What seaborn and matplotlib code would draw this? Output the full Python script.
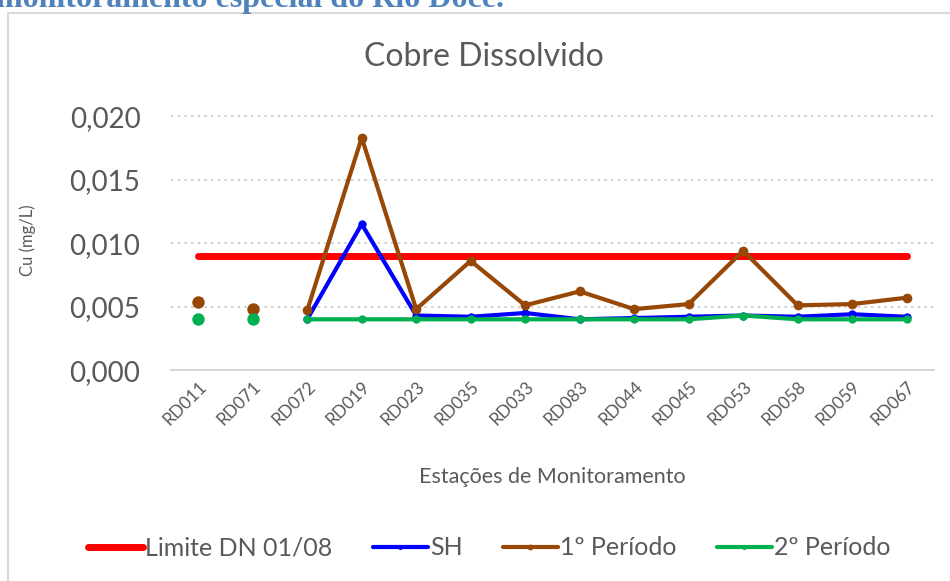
import numpy as np
import pandas as pd
import matplotlib
matplotlib.use("Agg")
import matplotlib.pyplot as plt
import seaborn as sb
from matplotlib.patches import Rectangle

estacoes = ["RD011", "RD071", "RD072", "RD019", "RD023", "RD035", "RD033",
            "RD083", "RD044", "RD045", "RD053", "RD058", "RD059", "RD067"]
limite = [0.009] * len(estacoes)
sh = [0.0040, 0.0041, 0.0040, 0.0115, 0.0043, 0.0042, 0.0045,
      0.0040, 0.0041, 0.0042, 0.0043, 0.0042, 0.0044, 0.0042]
periodo_1 = [0.0054, 0.0048, 0.0047, 0.0183, 0.0048, 0.0086, 0.0051,
             0.0062, 0.0048, 0.0052, 0.0094, 0.0051, 0.0052, 0.0057]
periodo_2 = [0.0040, 0.0040, 0.0040, 0.0040, 0.0040, 0.0040, 0.0040,
             0.0040, 0.0040, 0.0040, 0.0043, 0.0040, 0.0040, 0.0040]
# as duas primeiras estações aparecem sem ligação com as demais
n_isoladas = 2

sb.set_style("white")
plt.rcParams["font.family"] = ["Lato", "DejaVu Sans"]
cinza = "#595959"

df = pd.DataFrame({"pos": np.arange(len(estacoes)), "estacao": estacoes,
                   "limite": limite, "sh": sh, "p1": periodo_1, "p2": periodo_2})
isol = df.iloc[:n_isoladas]
resto = df.iloc[n_isoladas:]

fig = plt.figure(figsize=(9.5, 5.81), dpi=100)
ax = fig.add_axes([0.18, 0.363, 0.803, 0.448])

# moldura do gráfico
fig.patches.append(Rectangle((8 / 950, -0.01), 1.0, 1 - 13 / 581 + 0.01,
                             transform=fig.transFigure, fill=False,
                             edgecolor="#d9d9d9", linewidth=1.5))
# texto do documento, cortado no topo
fig.text(-0.004, 1 - 7 / 581, "monitoramento especial do Rio Doce.", color="#4f81bd",
         fontsize=23, fontweight="bold", family="Liberation Serif",
         ha="left", va="baseline")

sb.lineplot(x=df["pos"], y=df["limite"], color="#ff0000", linewidth=5,
            solid_capstyle="round", ax=ax, label="Limite DN 01/08")
sb.lineplot(x=resto["pos"], y=resto["sh"], color="#0000ff", linewidth=3,
            marker="o", markersize=6, markeredgewidth=0, ax=ax, label="SH")
sb.lineplot(x=resto["pos"], y=resto["p1"], color="#974706", linewidth=3,
            marker="o", markersize=7, markeredgewidth=0, ax=ax, label="1º Período")
sb.lineplot(x=resto["pos"], y=resto["p2"], color="#00b050", linewidth=3,
            marker="o", markersize=6, markeredgewidth=0, ax=ax, label="2º Período")
sb.scatterplot(x=isol["pos"], y=isol["sh"], color="#0000ff", s=60,
               linewidth=0, ax=ax, zorder=3)
sb.scatterplot(x=isol["pos"], y=isol["p1"], color="#974706", s=80,
               linewidth=0, ax=ax, zorder=3)
sb.scatterplot(x=isol["pos"], y=isol["p2"], color="#00b050", s=80,
               linewidth=0, ax=ax, zorder=4)

ax.set_xlim(-0.5, len(estacoes) - 0.5)
ax.set_ylim(0, 0.0205)
ax.set_yticks([0, 0.005, 0.010, 0.015, 0.020])
ax.set_yticklabels(["0,000", "0,005", "0,010", "0,015", "0,020"],
                   fontsize=20, color=cinza)
ax.set_xticks(df["pos"])
ax.set_xticklabels(estacoes, rotation=45, ha="right", rotation_mode="anchor",
                   fontsize=12.5, color=cinza)
ax.tick_params(axis="both", length=0, pad=6)
ax.tick_params(axis="y", pad=22)
ax.grid(axis="y", linestyle=(0, (1.5, 2.5)), color="#c8c8c8", linewidth=1.2)
for lado in ["top", "right", "left"]:
    ax.spines[lado].set_visible(False)
ax.spines["bottom"].set_color("#d0d0d0")
ax.spines["bottom"].set_linewidth(1.2)

ax.set_xlabel("Estações de Monitoramento", fontsize=15.5, color=cinza, labelpad=28)
ax.set_ylabel("Cu (mg/L)", fontsize=12, color=cinza, labelpad=24)
fig.text(0.509, 0.902, "Cobre Dissolvido", fontsize=23, color=cinza,
         ha="center", va="center")

ax.get_legend().remove()
handles, labels = ax.get_legend_handles_labels()
fig.legend(handles[:4], labels[:4], loc="center", bbox_to_anchor=(0.515, 0.057),
           ncol=4, frameon=False, fontsize=18, labelcolor=cinza,
           handlelength=2.2, handletextpad=0.1, columnspacing=1.6, markerscale=0.6)

fig.savefig("out.png", dpi=100)
